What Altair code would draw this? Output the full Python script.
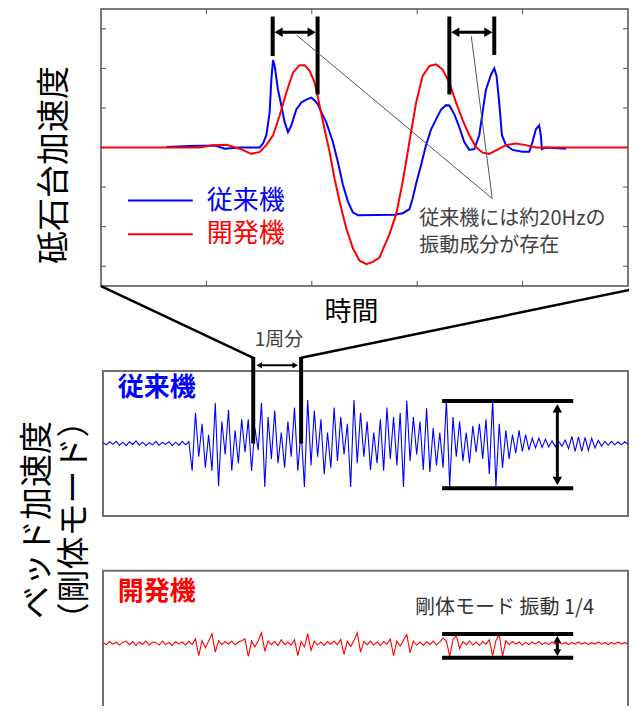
import altair as alt
import pandas as pd

# ---------------- data ----------------
# Top panel: grinding-wheel-head acceleration (time in grid divisions, accel in grid units)
blue_t = [0.622, 0.843, 1.080, 1.174, 1.316, 1.506, 1.537, 1.569, 1.600, 1.616,
          1.632, 1.648, 1.679, 1.711, 1.742, 1.774, 1.806, 1.853, 1.901, 1.948,
          1.995, 2.027, 2.058, 2.090, 2.137, 2.200, 2.247, 2.295, 2.342, 2.389,
          2.437, 2.784, 2.863, 2.926, 2.957, 2.990, 3.037, 3.084, 3.132, 3.179,
          3.226, 3.274, 3.305, 3.352, 3.400, 3.447, 3.494, 3.542, 3.589, 3.620,
          3.652, 3.700, 3.731, 3.753, 3.778, 3.804, 3.842, 3.904, 3.999, 4.063,
          4.094, 4.126, 4.157, 4.173, 4.183, 4.220, 4.410]
blue_a = [0.01, 0.04, 0.05, -0.03, 0.00, 0.00, 0.10, 0.31, 0.89, 1.71,
          2.21, 2.06, 1.46, 1.06, 0.64, 0.39, 0.56, 0.96, 1.14, 1.21,
          1.26, 1.19, 1.09, 0.89, 0.64, 0.14, -0.36, -0.94, -1.36, -1.64,
          -1.71, -1.70, -1.66, -1.56, -1.29, -0.91, -0.44, 0.06, 0.46, 0.71,
          0.96, 1.07, 1.06, 0.84, 0.51, 0.14, -0.06, -0.04, 0.31, 0.89,
          1.46, 1.84, 2.00, 1.81, 1.14, 0.31, 0.06, -0.06, -0.11, -0.11,
          0.14, 0.46, 0.56, 0.31, -0.04, 0.00, -0.03]
red_t = [0.000, 0.938, 1.063, 1.190, 1.316, 1.427, 1.506, 1.569, 1.632, 1.695,
         1.759, 1.821, 1.884, 1.932, 1.979, 2.027, 2.074, 2.121, 2.169, 2.216,
         2.263, 2.327, 2.389, 2.453, 2.519, 2.579, 2.642, 2.737, 2.800, 2.863,
         2.926, 2.990, 3.052, 3.116, 3.179, 3.241, 3.305, 3.368, 3.431, 3.494,
         3.558, 3.620, 3.684, 3.747, 3.842, 3.937, 4.031, 4.126, 5.000]
red_a = [0.00, 0.00, 0.06, 0.07, -0.03, -0.16, -0.11, 0.06, 0.31, 0.81,
         1.39, 1.89, 2.08, 2.08, 1.94, 1.64, 1.06, 0.46, -0.11, -0.79,
         -1.36, -2.04, -2.54, -2.86, -2.95, -2.89, -2.78, -2.19, -1.69, -0.86,
         0.14, 1.14, 1.81, 2.06, 2.10, 1.97, 1.64, 1.14, 0.69, 0.31,
         0.01, -0.13, -0.16, -0.07, 0.06, 0.10, 0.06, 0.00, 0.00]
y_ticks = [-3, -2, -1, 0, 1, 2, 3]
x_ticks = [1, 2, 3, 4]

# Lower panels: bed acceleration (rigid-body mode), uniformly sampled
bed_conv = [0.02, -0.03, 0.04, -0.02, 0.05, -0.04, 0.03, -0.05, 0.04, -0.02,
            0.06, -0.04, 0.03, -0.05, 0.02, -0.03, 0.05, -0.04, 0.03, -0.02,
            0.04, -0.05, 0.03, -0.04, 0.05, -0.03, 0.04, -0.62, 0.70, -0.30,
            0.45, -0.55, 0.20, -0.62, 0.92, -0.97, 0.50, -0.25, 0.76, -0.62,
            0.30, -0.45, 0.55, -0.20, 0.55, -0.62, 0.35, -0.15, 0.92, -0.99,
            0.60, -0.35, 0.75, -0.45, 0.25, -0.55, 0.50, -0.30, 0.82, -0.62,
            0.30, -0.99, 0.99, -0.50, 0.75, -0.30, 0.55, -0.70, 0.25, -0.55,
            0.82, -0.40, 0.60, -0.25, 0.45, -0.99, 0.99, -0.45, 0.70, -0.30,
            0.50, -0.60, 0.25, -0.45, 0.55, -0.62, 0.82, -0.35, 0.60, -0.50,
            0.70, -0.99, 0.97, -0.40, 0.60, -0.25, 0.50, -0.60, 0.80, -0.65,
            0.35, -0.50, 0.25, -0.55, 0.99, -0.99, 0.60, -0.30, 0.50, -0.40,
            0.25, -0.45, 0.40, -0.20, 0.45, -0.35, 0.55, -0.70, 0.99, -0.97,
            0.45, -0.55, 0.30, -0.35, 0.20, -0.22, 0.30, -0.18, 0.20, -0.15,
            0.12, -0.10, 0.12, -0.09, 0.10, -0.08, 0.06, -0.07, 0.05, -0.06,
            0.08, -0.12, 0.16, -0.18, 0.15, -0.18, 0.14, -0.16, 0.12, -0.10,
            0.07, -0.06, 0.05, -0.04, 0.05, -0.03, 0.04, -0.03, 0.04, -0.02]
bed_dev = [0.02, -0.03, 0.04, -0.02, 0.03, -0.04, 0.02, 0.05, -0.03, 0.04,
           -0.05, 0.03, -0.02, 0.05, -0.04, 0.03, 0.02, -0.04, 0.05, -0.03,
           0.02, -0.05, 0.04, -0.02, 0.03, -0.04, 0.05, -0.03, 0.10, -0.28,
           0.06, -0.10, 0.05, 0.22, -0.20, 0.06, -0.03, 0.04, -0.02, 0.05,
           -0.04, 0.03, 0.06, 0.10, -0.30, 0.05, -0.08, 0.06, 0.24, -0.18,
           0.05, -0.03, 0.04, -0.05, 0.08, -0.03, 0.03, -0.04, 0.08, -0.28,
           0.04, -0.08, 0.22, -0.16, 0.05, -0.04, 0.03, -0.05, 0.04, -0.02,
           0.05, -0.03, 0.09, -0.26, 0.05, -0.07, 0.06, 0.24, -0.20, 0.04,
           -0.03, 0.05, -0.04, 0.03, -0.05, 0.04, -0.02, 0.10, -0.28, 0.05,
           -0.06, 0.07, 0.20, -0.22, 0.05, -0.04, 0.03, -0.05, 0.04, -0.03,
           0.05, -0.04, 0.03, 0.12, 0.05, -0.30, 0.08, 0.18, -0.12, 0.04,
           -0.03, 0.05, -0.04, 0.03, -0.05, 0.04, -0.02, 0.08, -0.28, 0.06,
           0.20, -0.30, 0.06, -0.03, 0.04, -0.02, 0.03, -0.04, 0.02, -0.03,
           0.03, -0.02, 0.04, -0.03, 0.02, -0.03, 0.03, -0.02, 0.03, -0.02,
           0.02, -0.03, 0.02, -0.02, 0.03, -0.02, 0.02, -0.03, 0.02, -0.02,
           0.03, -0.02, 0.02, -0.03, 0.02, -0.02, 0.03, -0.02, 0.02, -0.02]

FONT = "Noto Sans CJK JP"
BLUE = "#0000FF"
RED = "#FF0000"
GRAY_TXT = "#404040"

# ---------------- scales (one coordinate system per panel) ----------------
tx = alt.Scale(domain=[0, 5], range=[93, 620], nice=False, zero=False)
ty = alt.Scale(domain=[-3.5, 3.5], range=[278, 1], nice=False, zero=False)
bx = alt.Scale(domain=[0, 159], range=[95, 620], nice=False, zero=False)
b1y = alt.Scale(domain=[-1.65, 1.65], range=[508, 363], nice=False, zero=False)
b2y = alt.Scale(domain=[-1.65, 1.65], range=[707.8, 562.8], nice=False, zero=False)


def pos(sx, sy, x2=False, y2=False):
    d = dict(x=alt.X("x:Q", scale=sx, axis=None), y=alt.Y("y:Q", scale=sy, axis=None))
    if x2:
        d["x2"] = alt.X2("x2:Q")
    if y2:
        d["y2"] = alt.Y2("y2:Q")
    return d


def segs(rows):
    return pd.DataFrame(rows, columns=["x", "y", "x2", "y2"])


def rules(rows, sx, sy, **kw):
    return alt.Chart(segs(rows)).mark_rule(**kw).encode(**pos(sx, sy, True, True))


def heads(rows, sx, sy, size):
    df = pd.DataFrame(rows, columns=["x", "y", "shape"])
    return alt.Chart(df).mark_point(filled=True, color="black", opacity=1, size=size, strokeWidth=0).encode(
        **pos(sx, sy), shape=alt.Shape("shape:N", scale=None))


def texts(rows, sx, sy, **kw):
    df = pd.DataFrame(rows, columns=["x", "y", "t"])
    return alt.Chart(df).mark_text(font=FONT, baseline="middle", **kw).encode(**pos(sx, sy), text="t:N")


# ---------------- top panel ----------------
top_frame = alt.Chart(pd.DataFrame({"x": [0], "x2": [5], "y": [-3.5], "y2": [3.5]})).mark_rect(
    filled=False, stroke="#505050", strokeWidth=1.5).encode(**pos(tx, ty, True, True))
tick_rows = ([(0, v, 0.047, v) for v in y_ticks] + [(5, v, 4.953, v) for v in y_ticks]
             + [(v, -3.5, v, -3.37) for v in x_ticks] + [(v, 3.5, v, 3.37) for v in x_ticks])
top_ticks = rules(tick_rows, tx, ty, color="#505050", strokeWidth=1)
blue_line = alt.Chart(pd.DataFrame({"x": blue_t, "y": blue_a})).mark_line(
    color=BLUE, strokeWidth=2).encode(**pos(tx, ty))
red_line = alt.Chart(pd.DataFrame({"x": red_t, "y": red_a})).mark_line(
    color=RED, strokeWidth=2).encode(**pos(tx, ty))
top_bars = rules([(1.629, 2.31, 1.629, 3.31), (2.055, 1.34, 2.055, 3.31),
                  (3.305, 1.34, 3.305, 3.31), (3.731, 2.34, 3.731, 3.31)], tx, ty,
                 color="black", strokeWidth=4)
top_arrows = rules([(1.68, 2.91, 2.00, 2.91), (3.355, 2.91, 3.68, 2.91)], tx, ty,
                   color="black", strokeWidth=3)
top_heads = heads([(1.685, 2.91, "triangle-left"), (1.999, 2.91, "triangle-right"),
                   (3.361, 2.91, "triangle-left"), (3.675, 2.91, "triangle-right")], tx, ty, 90)
gray_lines = rules([(1.856, 2.84, 3.712, -1.29), (3.513, 2.81, 3.712, -1.29)], tx, ty,
                   color="#555555", strokeWidth=1)
legend_lines = alt.Chart(segs([(0.256, -1.34, 0.871, -1.34), (0.256, -2.19, 0.871, -2.19)]).assign(
    c=[BLUE, RED])).mark_rule(strokeWidth=2).encode(**pos(tx, ty, True, True), color=alt.Color("c:N", scale=None))
legend_text = alt.Chart(pd.DataFrame({"x": [1.004, 1.004], "y": [-1.34, -2.19], "t": ["従来機", "開発機"],
                                      "c": [BLUE, RED]})).mark_text(
    font=FONT, fontSize=26, align="left", baseline="middle").encode(
    **pos(tx, ty), text="t:N", color=alt.Color("c:N", scale=None))
note = texts([(3.02, -1.81, "従来機には約20Hzの"), (3.02, -2.49, "振動成分が存在")], tx, ty,
             fontSize=20, align="left", color=GRAY_TXT)
xlabel = texts([(2.377, -4.17, "時間")], tx, ty, fontSize=27, align="center", color="black")

top = alt.layer(top_frame, top_ticks, blue_line, red_line, top_bars, top_arrows, top_heads,
                gray_lines, legend_lines, legend_text, note, xlabel)

# ---------------- lower panel 1 (従来機) ----------------
p1_frame = alt.Chart(pd.DataFrame({"x": [0], "x2": [159], "y": [-1.65], "y2": [1.65]})).mark_rect(
    filled=False, stroke="#707070", strokeWidth=2).encode(**pos(bx, b1y, True, True))
p1_line = alt.Chart(pd.DataFrame({"x": list(range(len(bed_conv))), "y": bed_conv})).mark_line(
    color=BLUE, strokeWidth=1.1).encode(**pos(bx, b1y))
p1_bracket = rules([(102.7, 0.97, 142.4, 0.97), (102.7, -1.02, 142.4, -1.02)], bx, b1y,
                   color="black", strokeWidth=4)
p1_arrow = rules([(137.6, 0.85, 137.6, -0.9)], bx, b1y, color="black", strokeWidth=3)
p1_heads = heads([(137.6, 0.8, "triangle-up"), (137.6, -0.85, "triangle-down")], bx, b1y, 90)
connectors = rules([(-0.6, 3.58, 45.5, 1.95), (160.5, 3.51, 60.0, 1.95)], bx, b1y,
                   color="black", strokeWidth=2.5)
rev_bars = rules([(45.5, 1.97, 45.5, 0.0), (60.0, 1.97, 60.0, 0.0)], bx, b1y, color="black", strokeWidth=4)
rev_arrow = rules([(47.5, 1.78, 58.0, 1.78)], bx, b1y, color="black", strokeWidth=2)
rev_heads = heads([(47.3, 1.78, "triangle-left"), (58.2, 1.78, "triangle-right")], bx, b1y, 40)
rev_text = texts([(53.3, 2.35, "1周分")], bx, b1y, fontSize=19, align="center", color=GRAY_TXT)
p1_label = texts([(4.5, 1.26, "従来機")], bx, b1y, fontSize=26, fontWeight="bold", align="left", color=BLUE)

p1 = alt.layer(p1_frame, p1_line, p1_bracket, p1_arrow, p1_heads, connectors, rev_bars,
               rev_arrow, rev_heads, rev_text, p1_label)

# ---------------- lower panel 2 (開発機) ----------------
p2_frame = alt.Chart(pd.DataFrame({"x": [0], "x2": [159], "y": [-1.9], "y2": [1.65]})).mark_rect(
    filled=False, stroke="#707070", strokeWidth=2).encode(**pos(bx, b2y, True, True))
p2_line = alt.Chart(pd.DataFrame({"x": list(range(len(bed_dev))), "y": bed_dev})).mark_line(
    color=RED, strokeWidth=1.1).encode(**pos(bx, b2y))
p2_bracket = rules([(102.7, 0.21, 142.4, 0.21), (102.7, -0.33, 142.4, -0.33)], bx, b2y,
                   color="black", strokeWidth=4)
p2_arrow = rules([(137.6, 0.12, 137.6, -0.24)], bx, b2y, color="black", strokeWidth=3)
p2_heads = heads([(137.6, 0.09, "triangle-up"), (137.6, -0.21, "triangle-down")], bx, b2y, 60)
p2_note = texts([(94.5, 0.80, "剛体モード 振動 1/4")], bx, b2y, fontSize=20, align="left", color="#333333")
p2_label = texts([(4.5, 1.17, "開発機")], bx, b2y, fontSize=26, fontWeight="bold", align="left", color=RED)

p2 = alt.layer(p2_frame, p2_line, p2_bracket, p2_arrow, p2_heads, p2_note, p2_label)

# ---------------- vertical axis titles ----------------
ttl = pd.DataFrame({"t": ["砥石台加速度", "ベッド加速度", "（剛体モード）"],
                    "px": [47, 30, 67], "py": [157, 512, 512]})
titles = alt.Chart(ttl).mark_text(font=FONT, fontSize=33, angle=270, align="center",
                                  baseline="middle", color="black").encode(
    x=alt.X("px:Q", scale=None, axis=None), y=alt.Y("py:Q", scale=None, axis=None), text="t:N")

chart = alt.layer(top, p1, p2, titles).resolve_scale(x="independent", y="independent").properties(
    width=621, height=698, padding=0, autosize=alt.AutoSizeParams(type="none"),
    background="white").configure_view(stroke=None)

chart.save("out.html", embed_options={"renderer": "svg", "actions": False})
